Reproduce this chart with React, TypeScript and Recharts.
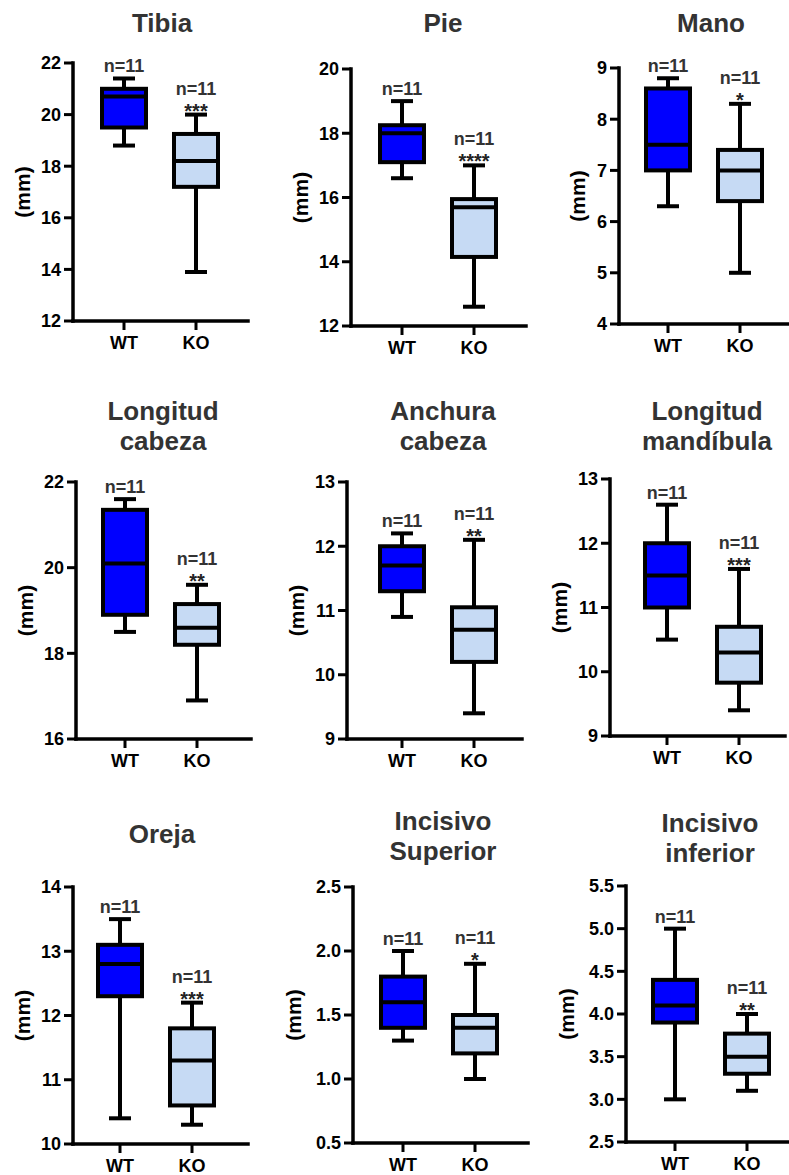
import React from 'react'
import { ComposedChart, Bar, XAxis, YAxis } from 'recharts'

const groups = ['WT', 'KO']

const titles = [
  ['Tibia'],
  ['Pie'],
  ['Mano'],
  ['Longitud', 'cabeza'],
  ['Anchura', 'cabeza'],
  ['Longitud', 'mandíbula'],
  ['Oreja'],
  ['Incisivo', 'Superior'],
  ['Incisivo', 'inferior'],
]

const yTicks = [
  [12, 14, 16, 18, 20, 22],
  [12, 14, 16, 18, 20],
  [4, 5, 6, 7, 8, 9],
  [16, 18, 20, 22],
  [9, 10, 11, 12, 13],
  [9, 10, 11, 12, 13],
  [10, 11, 12, 13, 14],
  [0.5, 1.0, 1.5, 2.0, 2.5],
  [2.5, 3.0, 3.5, 4.0, 4.5, 5.0, 5.5],
]

// min, q1, median, q3, max
const wtStats = [
  [18.8, 19.5, 20.7, 21.0, 21.4],
  [16.6, 17.1, 18.0, 18.25, 19.0],
  [6.3, 7.0, 7.5, 8.6, 8.8],
  [18.5, 18.9, 20.1, 21.35, 21.6],
  [10.9, 11.3, 11.7, 12.0, 12.2],
  [10.5, 11.0, 11.5, 12.0, 12.6],
  [10.4, 12.3, 12.8, 13.1, 13.5],
  [1.3, 1.4, 1.6, 1.8, 2.0],
  [3.0, 3.9, 4.1, 4.4, 5.0],
]

const koStats = [
  [13.9, 17.2, 18.2, 19.25, 20.0],
  [12.6, 14.15, 15.7, 15.95, 17.0],
  [5.0, 6.4, 7.0, 7.4, 8.3],
  [16.9, 18.2, 18.6, 19.15, 19.6],
  [9.4, 10.2, 10.7, 11.05, 12.1],
  [9.4, 9.83, 10.3, 10.7, 11.6],
  [10.3, 10.6, 11.3, 11.8, 12.2],
  [1.0, 1.2, 1.4, 1.5, 1.9],
  [3.1, 3.3, 3.5, 3.77, 4.0],
]

const wtN = [11, 11, 11, 11, 11, 11, 11, 11, 11]
const koN = [11, 11, 11, 11, 11, 11, 11, 11, 11]
const koStars = ['***', '****', '*', '**', '**', '***', '***', '*', '**']

// page placement of each panel (pixels)
const layout = [
  { axisX: 73, top: 63, bottom: 321, wtOff: 51, titleX: 162, titleBase: 32 },
  { axisX: 351, top: 69, bottom: 326, wtOff: 51, titleX: 443, titleBase: 32 },
  { axisX: 619, top: 68, bottom: 324, wtOff: 49, titleX: 711, titleBase: 32 },
  { axisX: 76, top: 482, bottom: 739, wtOff: 49, titleX: 163, titleBase: 420 },
  { axisX: 347, top: 482, bottom: 739, wtOff: 55, titleX: 443, titleBase: 420 },
  { axisX: 610, top: 479, bottom: 736, wtOff: 57, titleX: 707, titleBase: 420 },
  { axisX: 73, top: 887, bottom: 1144, wtOff: 47, titleX: 162, titleBase: 843 },
  { axisX: 353, top: 887, bottom: 1143, wtOff: 50, titleX: 443, titleBase: 830 },
  { axisX: 626, top: 886, bottom: 1142, wtOff: 49, titleX: 710, titleBase: 832 },
]

const FONT = '"Liberation Sans", Arial, Helvetica, sans-serif'
const FILLS = ['#0000FF', '#C6DAF4']
const Y_AXIS_W = 80
const PLOT_W = 175
const BAND = 72
const MARGIN_TOP = 30
const X_AXIS_H = 36

const BoxShape = (props: any) => {
  const { x, y, width, height, payload } = props
  if (!payload) return null
  const [mn, q1, md, q3, mx] = payload.stats
  const top = Math.min(y, y + height)
  const h = Math.abs(height)
  const py = (v: number) => top + ((mx - v) / (mx - mn)) * h
  const cx = x + width / 2
  const cap = 22
  const sw = 4
  return (
    <g>
      <line x1={cx} x2={cx} y1={py(mx)} y2={py(q3)} stroke="#000" strokeWidth={sw} />
      <line x1={cx} x2={cx} y1={py(q1)} y2={py(mn)} stroke="#000" strokeWidth={sw} />
      <line x1={cx - cap / 2} x2={cx + cap / 2} y1={py(mx)} y2={py(mx)} stroke="#000" strokeWidth={sw} />
      <line x1={cx - cap / 2} x2={cx + cap / 2} y1={py(mn)} y2={py(mn)} stroke="#000" strokeWidth={sw} />
      <rect x={x} y={py(q3)} width={width} height={py(q1) - py(q3)} fill={payload.fill} stroke="#000" strokeWidth={sw} />
      <line x1={x} x2={x + width} y1={py(md)} y2={py(md)} stroke="#000" strokeWidth={sw} />
      <text
        x={cx}
        y={py(mx) - (payload.stars ? 20 : 6)}
        textAnchor="middle"
        fontFamily={FONT}
        fontWeight={700}
        fontSize={18}
        fill="#333"
      >
        {`n=${payload.n}`}
      </text>
      {payload.stars ? (
        <text x={cx} y={py(mx) + 3} textAnchor="middle" fontFamily={FONT} fontWeight={700} fontSize={20} fill="#222">
          {payload.stars}
        </text>
      ) : null}
    </g>
  )
}

function Panel({ i }: { i: number }) {
  const L = layout[i]
  const ticks = yTicks[i]
  const decimals = ticks.some((t) => !Number.isInteger(t)) ? 1 : 0
  const fmt = (v: number) => v.toFixed(decimals)
  const maxChars = Math.max(...ticks.map((t) => fmt(t).length))
  const labelOff = 33 + 9 * maxChars
  const plotH = L.bottom - L.top
  const padLeft = L.wtOff - BAND / 2
  const padRight = PLOT_W - padLeft - BAND * 2

  const data = groups.map((g, k) => {
    const s = k === 0 ? wtStats[i] : koStats[i]
    return {
      name: g,
      range: [s[0], s[4]],
      stats: s,
      n: k === 0 ? wtN[i] : koN[i],
      stars: k === 0 ? '' : koStars[i],
      fill: FILLS[k],
    }
  })

  const mmLabel = (p: any) => {
    const vb = p.viewBox || { x: 0, y: MARGIN_TOP, width: Y_AXIS_W, height: plotH }
    const cx = vb.x + vb.width - labelOff
    const cy = vb.y + vb.height / 2
    return (
      <text
        x={cx}
        y={cy}
        transform={`rotate(-90 ${cx} ${cy})`}
        textAnchor="middle"
        dominantBaseline="central"
        fontFamily={FONT}
        fontWeight={700}
        fontSize={21}
        fill="#000"
      >
        (mm)
      </text>
    )
  }

  return (
    <>
      <div
        style={{
          position: 'absolute',
          left: L.titleX - 120,
          top: L.titleBase - 24,
          width: 240,
          textAlign: 'center',
          fontFamily: FONT,
          fontWeight: 700,
          fontSize: 26,
          lineHeight: '30px',
          color: '#333',
        }}
      >
        {titles[i].map((t) => (
          <div key={t}>{t}</div>
        ))}
      </div>
      <div style={{ position: 'absolute', left: L.axisX - Y_AXIS_W, top: L.top - MARGIN_TOP }}>
        <ComposedChart
          width={Y_AXIS_W + PLOT_W + 4}
          height={plotH + MARGIN_TOP + X_AXIS_H}
          data={data}
          margin={{ top: MARGIN_TOP, right: 4, left: 0, bottom: 0 }}
        >
          <XAxis
            dataKey="name"
            type="category"
            height={X_AXIS_H}
            padding={{ left: padLeft, right: padRight }}
            tickSize={9}
            tickMargin={6}
            axisLine={{ stroke: '#000', strokeWidth: 3.5, strokeLinecap: 'square' }}
            tickLine={{ stroke: '#000', strokeWidth: 3 }}
            tick={{ fill: '#000', fontSize: 18, fontWeight: 700, fontFamily: FONT }}
          />
          <YAxis
            type="number"
            domain={[ticks[0], ticks[ticks.length - 1]]}
            ticks={ticks}
            interval={0}
            width={Y_AXIS_W}
            tickFormatter={fmt}
            tickSize={9}
            tickMargin={3}
            axisLine={{ stroke: '#000', strokeWidth: 3.5, strokeLinecap: 'square' }}
            tickLine={{ stroke: '#000', strokeWidth: 3 }}
            tick={{ fill: '#000', fontSize: 18, fontWeight: 700, fontFamily: FONT }}
            label={mmLabel}
          />
          <Bar dataKey="range" barSize={44} shape={BoxShape} isAnimationActive={false} />
        </ComposedChart>
      </div>
    </>
  )
}

export default function App() {
  return (
    <div
      style={{
        position: 'absolute',
        left: 0,
        top: 0,
        width: 789,
        height: 1175,
        overflow: 'hidden',
        background: '#fff',
      }}
    >
      {titles.map((_, i) => (
        <Panel key={i} i={i} />
      ))}
    </div>
  )
}
